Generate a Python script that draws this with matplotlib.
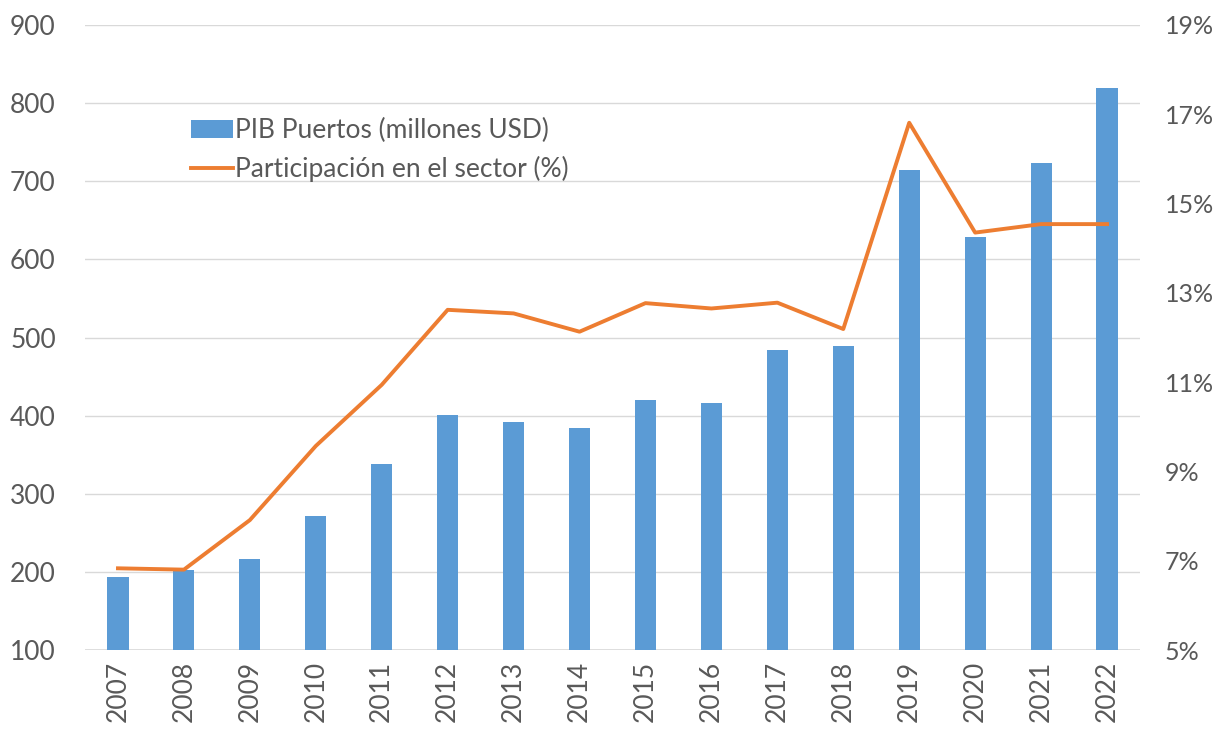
import numpy as np
import matplotlib.pyplot as plt
from matplotlib.ticker import FuncFormatter

plt.rcParams['font.family'] = ['Lato', 'DejaVu Sans']

years = ['2007', '2008', '2009', '2010', '2011', '2012', '2013', '2014',
         '2015', '2016', '2017', '2018', '2019', '2020', '2021', '2022']
pib_puertos = [193, 203, 217, 271, 338, 401, 392, 384,
               420, 416, 484, 489, 714, 629, 724, 819]
participacion = [6.83, 6.80, 7.91, 9.57, 10.94, 12.62, 12.54, 12.13,
                 12.77, 12.65, 12.78, 12.19, 16.81, 14.35, 14.54, 14.54]

bar_color = '#5B9BD5'
line_color = '#ED7D31'
text_color = '#595959'
grid_color = '#D9D9D9'

fig = plt.figure(figsize=(12.17, 7.32), dpi=100)
ax = fig.add_axes([85 / 1217, 82 / 732, 1055 / 1217, 625 / 732])
x = np.arange(len(years))

bars = ax.bar(x, pib_puertos, width=0.32, color=bar_color, zorder=2,
              label='PIB Puertos (millones USD)')
ax.set_ylim(100, 900)
ax.set_yticks(range(100, 901, 100))
ax.set_xlim(-0.5, len(years) - 0.5)
ax.set_xticks(x)
ax.set_xticklabels(years, rotation=90)
ax.grid(axis='y', color=grid_color, linewidth=1, zorder=0)
ax.set_axisbelow(True)

ax2 = ax.twinx()
line, = ax2.plot(x, participacion, color=line_color, linewidth=2.8,
                 zorder=3, label='Participación en el sector (%)')
ax2.set_ylim(5, 19)
ax2.set_yticks(range(5, 20, 2))
ax2.yaxis.set_major_formatter(FuncFormatter(lambda v, p: f'{v:.0f}%'))

for a in (ax, ax2):
    for s in a.spines.values():
        s.set_visible(False)
    a.tick_params(length=0, labelsize=19, colors=text_color)
ax.tick_params(axis='y', pad=21)
ax.tick_params(axis='x', pad=8)
ax2.tick_params(axis='y', pad=18, labelsize=18)
# bottom gridline drawn slightly darker like an axis line
ax.axhline(100, color=grid_color, linewidth=1.2, zorder=1)

leg = ax.legend([bars, line], [bars.get_label(), line.get_label()],
                loc='upper left', bbox_to_anchor=(0.09, 0.868),
                frameon=False, fontsize=19, handlelength=1.6,
                handletextpad=0.1, labelspacing=0.5, borderaxespad=0)
for t in leg.get_texts():
    t.set_color(text_color)

fig.savefig('out.png', dpi=100)
